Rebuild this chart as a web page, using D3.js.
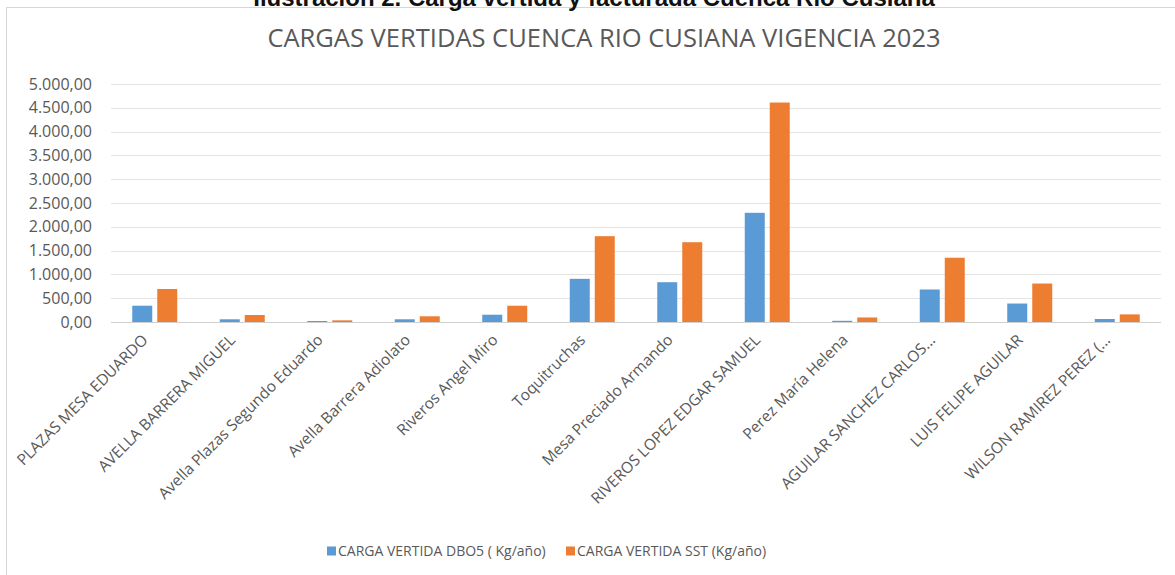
<!DOCTYPE html>
<html>
<head>
<meta charset="utf-8">
<script src="https://cdn.jsdelivr.net/npm/d3@7"></script>
<style>
  body { margin: 0; background: #fff; }
  svg { display: block; }
</style>
</head>
<body>
<div id="chart"></div>
<script>
const names = [
  'PLAZAS MESA EDUARDO',
  'AVELLA BARRERA MIGUEL',
  'Avella Plazas Segundo Eduardo',
  'Avella Barrera Adiolato',
  'Riveros Angel Miro',
  'Toquitruchas',
  'Mesa Preciado Armando',
  'RIVEROS LOPEZ EDGAR SAMUEL',
  'Perez María Helena',
  'AGUILAR SANCHEZ CARLOS...',
  'LUIS FELIPE AGUILAR',
  'WILSON RAMIREZ PEREZ (...'
]
const dbo5 = [342, 57, 21, 57, 153, 907, 836, 2294, 25, 683, 388, 63]
const sst = [693, 147, 35, 120, 342, 1803, 1676, 4611, 95, 1350, 808, 160]
const yTicks = [0, 500, 1000, 1500, 2000, 2500, 3000, 3500, 4000, 4500, 5000]
const seriesNames = ['CARGA VERTIDA DBO5 ( Kg/año)', 'CARGA VERTIDA SST (Kg/año)']
const colors = ['#5b9bd5', '#ed7d31']

const width = 1175
const height = 575
const margin = { top: 84, left: 111, right: 14, bottom: 253 }
const plotW = width - margin.left - margin.right
const plotH = height - margin.top - margin.bottom

const svg = d3
  .select('#chart')
  .append('svg')
  .attr('width', width)
  .attr('height', height)

// chart frame
svg
  .append('rect')
  .attr('x', 6.5)
  .attr('y', 7.5)
  .attr('width', width + 10)
  .attr('height', height)
  .attr('fill', 'none')
  .attr('stroke', '#d6d6d6')

// caption, cut off at the top like in the scan
svg
  .append('text')
  .attr('x', 594)
  .attr('y', 6)
  .attr('text-anchor', 'middle')
  .style('font-family', 'Liberation Sans, Arial, sans-serif')
  .style('font-weight', 'bold')
  .style('font-size', '24px')
  .attr('fill', '#111')
  .text('Ilustración 2. Carga vertida y facturada Cuenca Rio Cusiana')

svg
  .append('text')
  .attr('x', 604)
  .attr('y', 47)
  .attr('text-anchor', 'middle')
  .style('font-family', 'Open Sans, sans-serif')
  .style('font-size', '25.5px')
  .attr('fill', '#595959')
  .text('CARGAS VERTIDAS CUENCA RIO CUSIANA VIGENCIA 2023')

const g = svg
  .append('g')
  .attr('transform', `translate(${margin.left},${margin.top})`)

const xScale = d3.scaleBand().domain(names).range([0, plotW])
const yScale = d3.scaleLinear().domain([0, 5000]).range([plotH, 0])
const fmt = d3.formatLocale({ decimal: ',', thousands: '.', grouping: [3], currency: ['', ''] }).format(',.2f')

// gridlines
g.selectAll('.grid')
  .data(yTicks)
  .enter()
  .append('line')
  .attr('x1', 0)
  .attr('x2', plotW)
  .attr('y1', d => Math.round(yScale(d)) + 0.5)
  .attr('y2', d => Math.round(yScale(d)) + 0.5)
  .attr('stroke', d => (d === 0 ? '#d0d0d0' : '#e4e4e4'))

// y labels
g.selectAll('.ylabel')
  .data(yTicks)
  .enter()
  .append('text')
  .attr('x', -19)
  .attr('y', d => yScale(d))
  .attr('dy', '0.35em')
  .attr('text-anchor', 'end')
  .style('font-family', 'Open Sans, sans-serif')
  .style('font-size', '16px')
  .attr('fill', '#595959')
  .text(d => fmt(d))

const series = [dbo5, sst]
const barW = 20
const offsets = [-22.5, 2.5]

series.forEach(function(values, i) {
  g.selectAll('.bar-' + i)
    .data(values)
    .enter()
    .append('rect')
    .attr('x', (d, j) => xScale(names[j]) + xScale.bandwidth() / 2 + offsets[i])
    .attr('y', d => yScale(d))
    .attr('width', barW)
    .attr('height', d => plotH - yScale(d))
    .attr('fill', colors[i])
})

// x labels rotated
g.selectAll('.xlabel')
  .data(names)
  .enter()
  .append('text')
  .attr('text-anchor', 'end')
  .attr('transform', d => `translate(${xScale(d) + xScale.bandwidth() / 2 - 6},${plotH + 19}) rotate(-45)`)
  .style('font-family', 'Open Sans, sans-serif')
  .style('font-size', '15.5px')
  .attr('fill', '#595959')
  .text(d => d)

// legend
const legend = svg
  .append('g')
  .attr('transform', 'translate(327,551)')
const legendX = [0, 239]

seriesNames.forEach(function(name, i) {
  legend
    .append('rect')
    .attr('x', legendX[i])
    .attr('y', -4.5)
    .attr('width', 9)
    .attr('height', 9)
    .attr('fill', colors[i])
  legend
    .append('text')
    .attr('x', legendX[i] + 11)
    .attr('y', 0)
    .attr('dy', '0.35em')
    .style('font-family', 'Open Sans, sans-serif')
    .style('font-size', '14px')
    .attr('fill', '#595959')
    .text(name)
})
</script>
</body>
</html>
